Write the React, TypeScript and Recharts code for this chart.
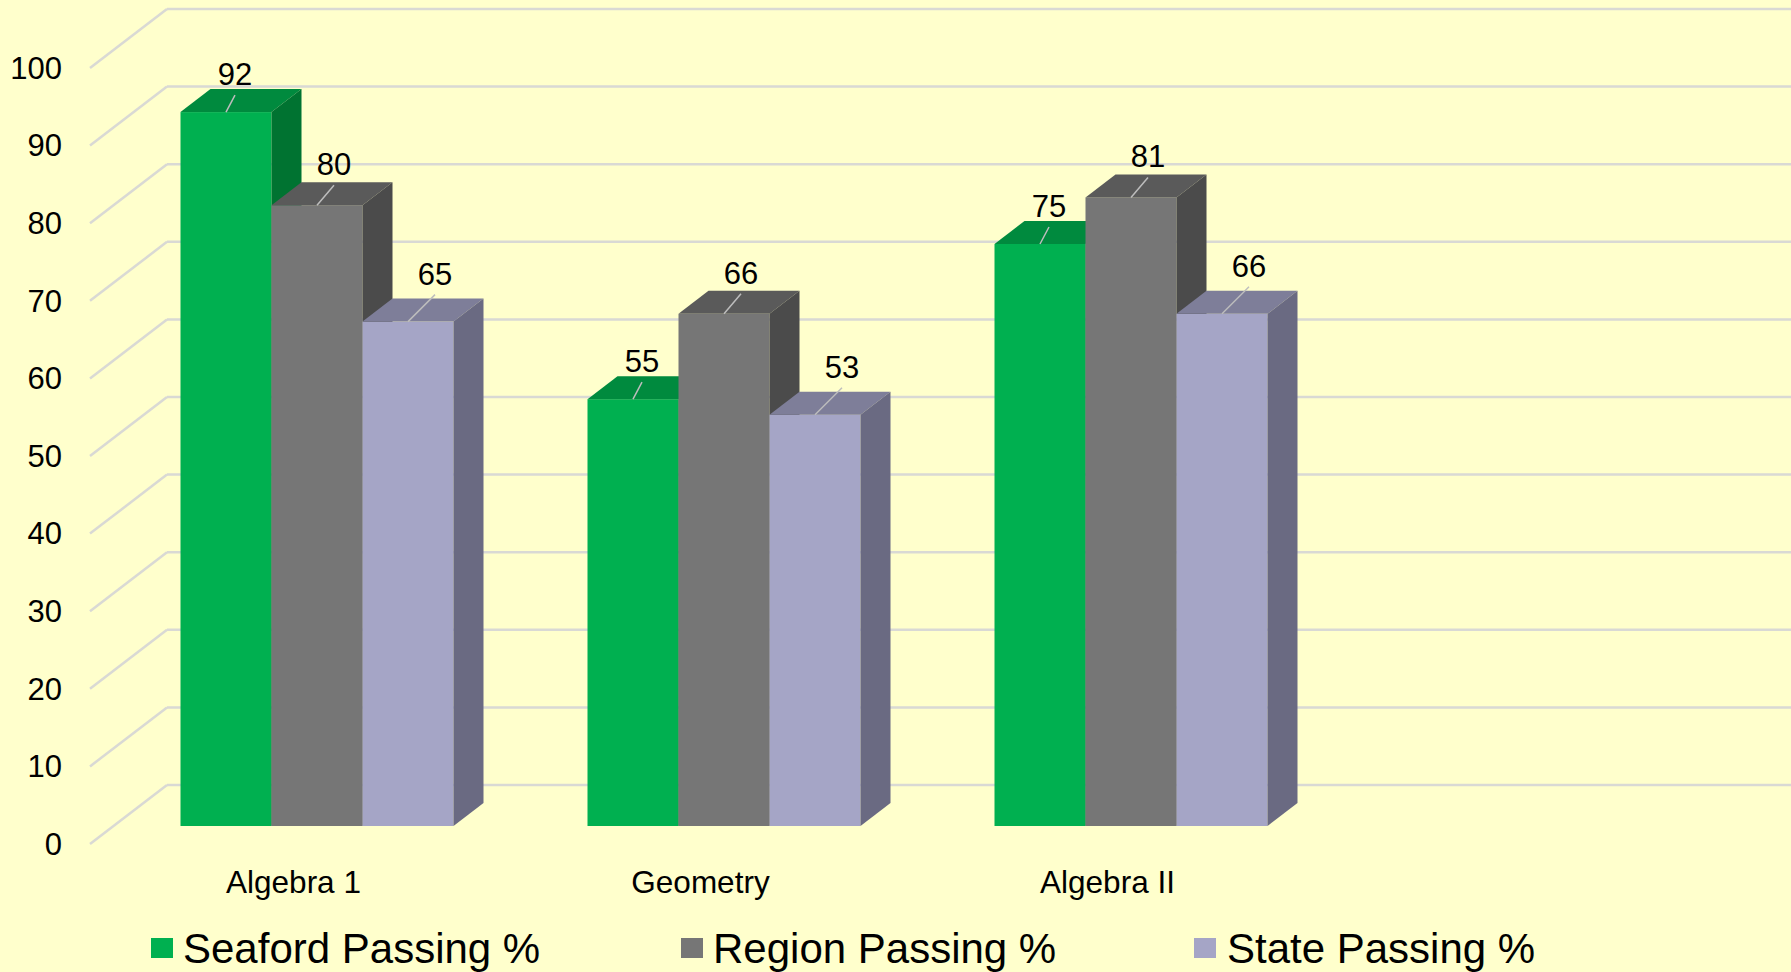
import { Bar, BarChart, CartesianGrid, LabelList, Legend, XAxis, YAxis } from 'recharts'

const categories = ['Algebra 1', 'Geometry', 'Algebra II', '']
const seaford = [92, 55, 75, null]
const region = [80, 66, 81, null]
const state = [65, 53, 66, null]
const yTicks = [0, 10, 20, 30, 40, 50, 60, 70, 80, 90, 100]

const W = 1791
const H = 972
const FONT = '"Liberation Sans", Arial, sans-serif'

// bar depth in px
const DX = 30
const DY = 23
// front (axis) plane and back wall, relative to the bar plane
const FRONT_DX = -23
const FRONT_DY = 18
const BACK_DX = 54
const BACK_DY = -41

const SERIES = [
  { key: 'seaford', name: 'Seaford Passing %', front: '#00B050', top: '#008A3E', side: '#007331', lx: 9, ly: -27 },
  { key: 'region', name: 'Region Passing %', front: '#767676', top: '#5A5A5A', side: '#4B4B4B', lx: 17, ly: -30 },
  { key: 'state', name: 'State Passing %', front: '#A5A5C6', top: '#7E7E99', side: '#6A6A82', lx: 27, ly: -37 },
]

const data = categories.map((name, i) => ({
  name,
  seaford: seaford[i],
  region: region[i],
  state: state[i],
}))

function makeShape(s: (typeof SERIES)[number]) {
  return (props: any) => {
    const { x, y, width, height } = props
    if (!height || height <= 0) return <g />
    const b = y + height
    return (
      <g>
        <rect x={x} y={y} width={width} height={height} fill={s.front} />
        <polygon
          points={`${x},${y} ${x + width},${y} ${x + width + DX},${y - DY} ${x + DX},${y - DY}`}
          fill={s.top}
        />
        <polygon
          points={`${x + width},${y} ${x + width + DX},${y - DY} ${x + width + DX},${b - DY} ${x + width},${b}`}
          fill={s.side}
        />
      </g>
    )
  }
}

function makeLabel(s: (typeof SERIES)[number]) {
  return (props: any) => {
    const { x, y, width, value } = props
    if (value == null) return null
    const cx = x + width / 2
    return (
      <g>
        <line x1={cx} y1={y} x2={cx + s.lx} y2={y + s.ly + 10} stroke="#BDBDBD" strokeWidth={1.5} />
        <text x={cx + s.lx} y={y + s.ly} textAnchor="middle" fontSize={31} fontFamily={FONT} fill="#000">
          {value}
        </text>
      </g>
    )
  }
}

function GridLine(props: any) {
  const { x1, y1, index } = props
  const fx = x1 + FRONT_DX
  const fy = y1 + FRONT_DY
  const bx = x1 + BACK_DX
  const by = y1 + BACK_DY
  return (
    <g key={`grid-${index}`}>
      <line x1={fx} y1={fy} x2={bx} y2={by} stroke="#D9D9D4" strokeWidth={2.5} />
      <line x1={bx} y1={by} x2={W} y2={by} stroke="#D9D9D4" strokeWidth={2.5} />
    </g>
  )
}

function LegendContent() {
  const pos = [
    { sq: 151, tx: 183 },
    { sq: 681, tx: 713 },
    { sq: 1194, tx: 1227 },
  ]
  return (
    <div style={{ position: 'relative', width: W, height: 76, fontFamily: FONT }}>
      {SERIES.map((s, i) => (
        <div key={s.key}>
          <div
            style={{
              position: 'absolute',
              left: pos[i].sq,
              top: 42,
              width: 22,
              height: 20,
              background: s.front,
            }}
          />
          <div
            style={{
              position: 'absolute',
              left: pos[i].tx,
              top: 29,
              fontSize: 42,
              lineHeight: '48px',
              color: '#000',
              whiteSpace: 'nowrap',
            }}
          >
            {s.name}
          </div>
        </div>
      ))}
    </div>
  )
}

export default function App() {
  return (
    <div style={{ position: 'absolute', left: 0, top: 0, width: W, height: H, background: '#FFFFCC', overflow: 'hidden' }}>
      <BarChart
        width={W}
        height={H}
        data={data}
        margin={{ top: 50, right: 50, left: 0, bottom: 0 }}
        barCategoryGap={67.5}
        barGap={0}
      >
        <CartesianGrid vertical={false} horizontal={GridLine} />
        <XAxis
          dataKey="name"
          height={70}
          axisLine={false}
          tickLine={false}
          interval={0}
          tick={(p: any) => (
            <text
              x={p.x + FRONT_DX}
              y={893}
              textAnchor="middle"
              fontSize={31.5}
              fontFamily={FONT}
              fill="#000"
            >
              {p.payload.value}
            </text>
          )}
        />
        <YAxis
          width={113}
          domain={[0, 100]}
          ticks={yTicks}
          axisLine={false}
          tickLine={false}
          tick={(p: any) => (
            <text
              x={62}
              y={p.y + FRONT_DY}
              dy="0.35em"
              textAnchor="end"
              fontSize={31}
              fontFamily={FONT}
              fill="#000"
            >
              {p.payload.value}
            </text>
          )}
        />
        <Legend verticalAlign="bottom" height={76} content={LegendContent} wrapperStyle={{ left: 0, bottom: 0 }} />
        {SERIES.map((s) => (
          <Bar
            key={s.key}
            dataKey={s.key}
            name={s.name}
            fill={s.front}
            shape={makeShape(s)}
            isAnimationActive={false}
          >
            <LabelList dataKey={s.key} content={makeLabel(s)} />
          </Bar>
        ))}
      </BarChart>
    </div>
  )
}
